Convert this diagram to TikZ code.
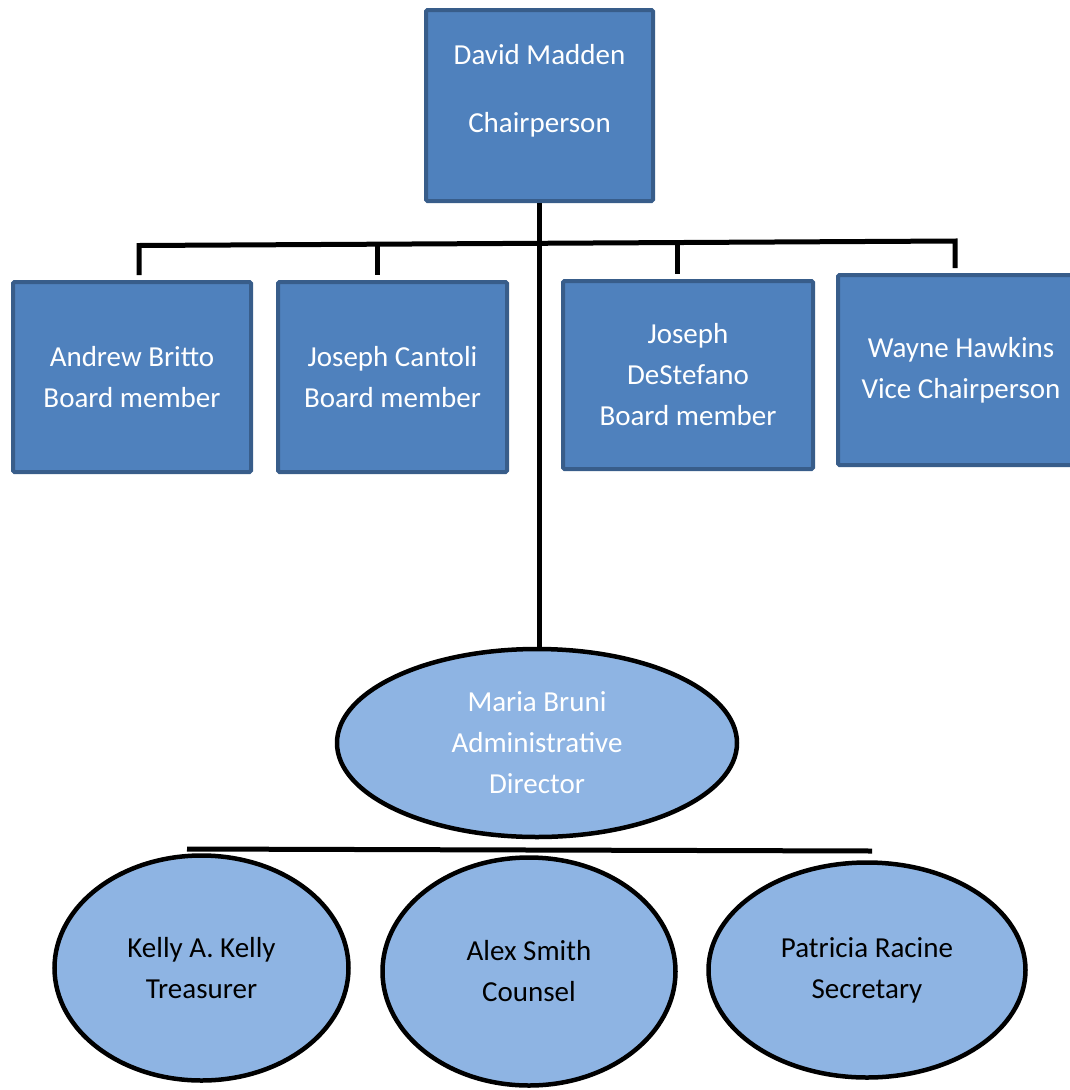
\documentclass[tikz,border=0pt]{standalone}
\usepackage{fontspec}
\setmainfont{Carlito}
\usetikzlibrary{shapes.geometric}
\definecolor{boxblue}{HTML}{4F81BD}
\definecolor{boxedge}{HTML}{385D8A}
\definecolor{ovalblue}{HTML}{8EB4E3}

\begin{document}
\begin{tikzpicture}[x=1pt, y=-1pt,
  orgtext/.style={font=\fontsize{29}{41}\selectfont, align=center},
  boardbox/.style={orgtext, rectangle, draw=boxedge, fill=boxblue, line width=4pt,
    rounded corners=1.5pt, text=white, inner sep=0pt},
  staffoval/.style={orgtext, ellipse, draw=black, fill=ovalblue, line width=4.5pt, inner sep=0pt},
  link/.style={line width=5pt, line join=miter}]
\useasboundingbox (0,0) rectangle (1070,1090);

% chair
\node[boardbox, minimum width=227pt, minimum height=191pt] (chair) at (539.5,105.5) {};
\node[orgtext, text=white] (chairtxt) at (539.5,91) {David Madden\\[27pt]Chairperson};

% board row
\node[boardbox, minimum width=238pt, minimum height=190pt] (britto) at (132,377) {Andrew Britto\\Board member};
\node[boardbox, minimum width=229pt, minimum height=190pt] (cantoli) at (392.5,377) {Joseph Cantoli\\Board member};
\node[boardbox, minimum width=250pt, minimum height=188pt] (destefano) at (688,375) {Joseph\\DeStefano\\Board member};
\node[boardbox, minimum width=246pt, minimum height=190pt] (hawkins) at (961,370) {Wayne Hawkins\\Vice Chairperson};

% staff
\node[staffoval, text=white, minimum width=400pt, minimum height=188pt] (bruni) at (537,743) {Maria Bruni\\Administrative\\Director};
\node[staffoval, minimum width=294pt, minimum height=225pt] (kelly) at (201.5,968) {Kelly A. Kelly\\Treasurer};
\node[staffoval, minimum width=293pt, minimum height=228pt] (smith) at (529,971.5) {Alex Smith\\Counsel};
\node[staffoval, minimum width=317pt, minimum height=215pt] (racine) at (867,970) {Patricia Racine\\Secretary};

% bar over the board
\coordinate (t1) at (139,245.5);
\coordinate (t2) at (377,244.2);
\coordinate (t3) at (677,242.5);
\coordinate (t4) at (955,241);
\draw[link, shorten <=5pt, shorten >=5pt] (t1 |- britto.north) -- (t1) -- (t4) -- (t4 |- hawkins.north);
\draw[link, shorten >=5pt] (t2) -- (t2 |- cantoli.north);
\draw[link, shorten >=5pt] (t3) -- (t3 |- destefano.north);
\draw[link] (chair.south) -- (chair.south |- bruni.north);

% line under the director
\coordinate (lineL) at (187,849);
\coordinate (lineR) at (872,851);
\draw[link] (lineL) -- (lineR);
\end{tikzpicture}
\end{document}
